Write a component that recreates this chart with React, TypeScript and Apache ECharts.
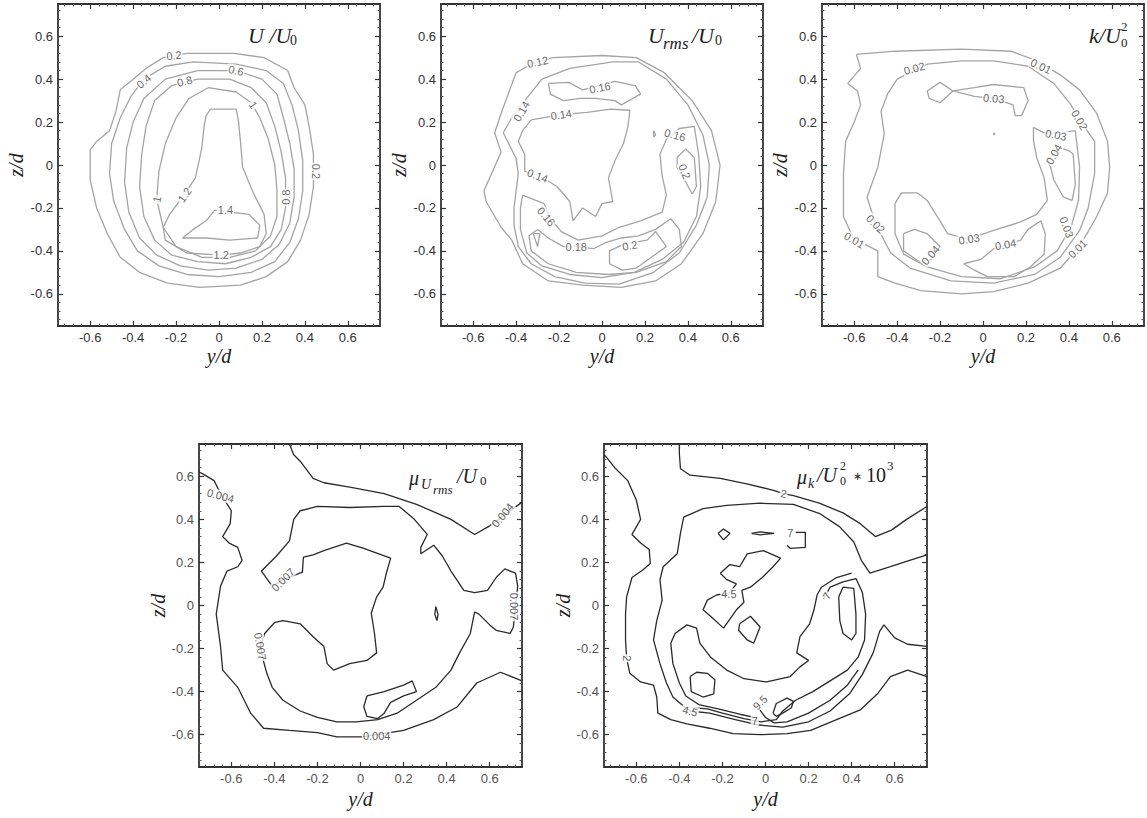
import React, { useEffect, useRef } from "react";
import * as echarts from "echarts";

// ---------- axis ticks ----------
const MAJOR_TICKS = [-0.6, -0.4, -0.2, 0, 0.2, 0.4, 0.6];
const MINOR_STEP = 0.04;

// ---------- Panel 1 : U/U0 ----------
const P1_C02 = [[-0.15,0.52],[0.07,0.52],[0.21,0.50],[0.32,0.44],[0.35,0.36],[0.40,0.28],[0.42,0.18],[0.44,0.05],[0.44,-0.10],[0.42,-0.23],[0.38,-0.35],[0.32,-0.45],[0.22,-0.52],[0.10,-0.56],[-0.09,-0.57],[-0.24,-0.55],[-0.37,-0.50],[-0.46,-0.43],[-0.52,-0.32],[-0.57,-0.20],[-0.60,-0.07],[-0.60,0.07],[-0.57,0.11],[-0.51,0.16],[-0.48,0.25],[-0.46,0.35],[-0.40,0.40],[-0.34,0.45],[-0.26,0.50],[-0.15,0.52]];
const P1_C04 = [[-0.12,0.48],[0.08,0.47],[0.22,0.44],[0.30,0.38],[0.34,0.28],[0.37,0.16],[0.39,0.02],[0.39,-0.12],[0.37,-0.25],[0.33,-0.36],[0.26,-0.45],[0.15,-0.50],[0.00,-0.52],[-0.15,-0.51],[-0.28,-0.47],[-0.38,-0.40],[-0.44,-0.30],[-0.49,-0.17],[-0.51,-0.04],[-0.50,0.10],[-0.46,0.22],[-0.41,0.32],[-0.35,0.40],[-0.25,0.46],[-0.12,0.48]];
const P1_C06 = [[-0.10,0.44],[0.08,0.44],[0.20,0.40],[0.27,0.33],[0.30,0.22],[0.33,0.10],[0.35,-0.02],[0.35,-0.15],[0.33,-0.27],[0.28,-0.37],[0.20,-0.44],[0.08,-0.48],[-0.05,-0.49],[-0.18,-0.47],[-0.29,-0.42],[-0.37,-0.34],[-0.42,-0.22],[-0.44,-0.08],[-0.43,0.08],[-0.40,0.20],[-0.35,0.31],[-0.25,0.40],[-0.10,0.44]];
const P1_C08 = [[-0.10,0.40],[0.05,0.40],[0.15,0.36],[0.22,0.29],[0.26,0.18],[0.29,0.06],[0.31,-0.06],[0.31,-0.20],[0.29,-0.30],[0.24,-0.38],[0.15,-0.43],[0.03,-0.46],[-0.10,-0.45],[-0.22,-0.42],[-0.30,-0.35],[-0.35,-0.24],[-0.37,-0.10],[-0.36,0.05],[-0.34,0.18],[-0.30,0.30],[-0.22,0.37],[-0.10,0.40]];
const P1_C10 = [[-0.05,0.36],[0.08,0.34],[0.15,0.29],[0.19,0.22],[0.23,0.12],[0.26,0.00],[0.27,-0.12],[0.27,-0.24],[0.24,-0.33],[0.17,-0.40],[0.05,-0.43],[-0.08,-0.43],[-0.20,-0.38],[-0.26,-0.29],[-0.29,-0.16],[-0.28,-0.03],[-0.25,0.10],[-0.20,0.22],[-0.14,0.31],[-0.05,0.36]];
const P1_C12 = [[-0.06,0.23],[-0.04,0.26],[0.08,0.26],[0.09,0.21],[0.10,0.11],[0.11,-0.01],[0.16,-0.13],[0.21,-0.23],[0.22,-0.32],[0.19,-0.38],[0.10,-0.41],[0.01,-0.42],[-0.15,-0.41],[-0.25,-0.35],[-0.26,-0.29],[-0.23,-0.23],[-0.17,-0.15],[-0.11,-0.06],[-0.08,0.08],[-0.07,0.175],[-0.06,0.23]];
const P1_C14 = [[-0.02,-0.21],[0.14,-0.23],[0.19,-0.28],[0.18,-0.34],[0.05,-0.35],[-0.06,-0.34],[-0.17,-0.34],[-0.12,-0.30],[-0.06,-0.26],[-0.02,-0.21]];
const P1_LABELS = [["0.2",-0.21,0.51,5],["0.4",-0.35,0.39,40],["0.6",0.08,0.44,-12],["0.8",-0.16,0.39,15],["1",0.16,0.28,-55],["0.2",0.45,-0.03,-90],["0.8",0.31,-0.15,90],["1",-0.29,-0.16,80],["1.2",-0.16,-0.14,55],["1.4",0.03,-0.21,0],["1.2",0.01,-0.42,0]];

// ---------- Panel 2 : Urms/U0 ----------
const P2_C012 = [[-0.23,0.50],[0.00,0.51],[0.16,0.50],[0.29,0.43],[0.42,0.30],[0.51,0.16],[0.55,0.00],[0.53,-0.17],[0.47,-0.32],[0.37,-0.46],[0.25,-0.54],[0.09,-0.57],[-0.09,-0.56],[-0.25,-0.54],[-0.37,-0.46],[-0.42,-0.35],[-0.47,-0.29],[-0.54,-0.17],[-0.55,-0.12],[-0.51,-0.03],[-0.47,0.06],[-0.50,0.15],[-0.47,0.24],[-0.43,0.35],[-0.40,0.43],[-0.33,0.47],[-0.23,0.50]];
const P2_C014A = [[-0.28,0.40],[-0.15,0.45],[0.05,0.48],[0.17,0.48],[0.30,0.40],[0.40,0.28],[0.47,0.14],[0.50,0.00],[0.49,-0.15],[0.44,-0.28],[0.36,-0.41],[0.24,-0.50],[0.08,-0.555],[-0.08,-0.55],[-0.22,-0.52],[-0.33,-0.46],[-0.39,-0.38],[-0.41,-0.28],[-0.41,-0.20],[-0.40,-0.12],[-0.39,-0.04],[-0.40,0.03],[-0.46,0.15],[-0.42,0.22],[-0.36,0.30],[-0.28,0.40]];
const P2_C014B = [[-0.33,0.21],[-0.19,0.235],[-0.07,0.245],[0.04,0.26],[0.13,0.255],[0.12,0.175],[0.10,0.10],[0.06,0.02],[0.03,-0.06],[0.05,-0.17],[0.00,-0.18],[-0.03,-0.24],[-0.09,-0.20],[-0.135,-0.26],[-0.15,-0.17],[-0.21,-0.10],[-0.29,-0.05],[-0.36,-0.03],[-0.36,0.05],[-0.39,0.11],[-0.37,0.16],[-0.33,0.21]];
const P2_C016A = [[-0.25,0.38],[-0.155,0.385],[-0.09,0.35],[-0.015,0.37],[0.06,0.39],[0.155,0.37],[0.18,0.33],[0.09,0.28],[0.06,0.30],[-0.03,0.31],[-0.10,0.31],[-0.18,0.30],[-0.24,0.33],[-0.25,0.38]];
const P2_C016B = [[-0.37,-0.14],[-0.32,-0.16],[-0.27,-0.18],[-0.24,-0.25],[-0.19,-0.31],[-0.11,-0.35],[0.00,-0.33],[0.08,-0.29],[0.18,-0.26],[0.28,-0.22],[0.30,-0.14],[0.28,-0.05],[0.27,0.05],[0.30,0.12],[0.36,0.17],[0.43,0.18],[0.45,0.05],[0.46,-0.10],[0.44,-0.24],[0.38,-0.36],[0.28,-0.44],[0.15,-0.50],[0.00,-0.525],[-0.15,-0.51],[-0.28,-0.47],[-0.35,-0.41],[-0.38,-0.30],[-0.38,-0.20],[-0.37,-0.14]];
const P2_C018 = [[-0.30,-0.30],[-0.25,-0.34],[-0.18,-0.38],[-0.12,-0.38],[-0.04,-0.39],[0.02,-0.36],[0.09,-0.34],[0.17,-0.33],[0.25,-0.30],[0.32,-0.25],[0.36,-0.30],[0.37,-0.38],[0.30,-0.45],[0.16,-0.50],[0.03,-0.51],[-0.12,-0.50],[-0.25,-0.46],[-0.33,-0.40],[-0.34,-0.33],[-0.30,-0.30]];
const P2_C020A = [[0.035,-0.46],[0.035,-0.40],[0.10,-0.37],[0.21,-0.35],[0.25,-0.31],[0.30,-0.38],[0.23,-0.43],[0.16,-0.48],[0.095,-0.49],[0.035,-0.46]];
const P2_C020B = [[-0.32,-0.32],[-0.29,-0.32],[-0.30,-0.38],[-0.32,-0.32]];
const P2_C020C = [[0.35,0.035],[0.39,0.075],[0.43,0.035],[0.44,-0.10],[0.42,-0.135],[0.38,-0.06],[0.35,-0.01],[0.35,0.035]];
const P2_DOT = [[0.24,0.16],[0.25,0.14],[0.24,0.13],[0.24,0.16]];
const P2_LABELS = [["0.12",-0.30,0.48,12],["0.14",-0.375,0.25,60],["0.16",-0.01,0.36,12],["0.14",-0.19,0.235,8],["0.16",0.34,0.14,-15],["0.2",0.385,-0.03,-70],["0.14",-0.30,-0.05,-20],["0.16",-0.26,-0.24,-50],["0.18",-0.12,-0.38,0],["0.2",0.13,-0.375,10]];

// ---------- Panel 3 : k/U0^2 ----------
const P3_C001 = [[-0.59,0.515],[-0.41,0.53],[-0.10,0.54],[0.13,0.53],[0.24,0.49],[0.36,0.42],[0.45,0.35],[0.53,0.24],[0.58,0.11],[0.59,-0.01],[0.58,-0.13],[0.53,-0.24],[0.49,-0.31],[0.44,-0.39],[0.36,-0.48],[0.21,-0.55],[0.05,-0.59],[-0.10,-0.60],[-0.29,-0.585],[-0.41,-0.55],[-0.49,-0.52],[-0.49,-0.40],[-0.55,-0.37],[-0.60,-0.35],[-0.65,-0.24],[-0.65,-0.04],[-0.64,0.11],[-0.60,0.20],[-0.57,0.28],[-0.585,0.345],[-0.63,0.38],[-0.57,0.45],[-0.59,0.515]];
const P3_C002 = [[-0.40,0.40],[-0.26,0.47],[-0.10,0.485],[0.05,0.485],[0.21,0.46],[0.33,0.38],[0.41,0.28],[0.45,0.21],[0.52,0.11],[0.52,-0.04],[0.49,-0.20],[0.45,-0.305],[0.36,-0.43],[0.24,-0.51],[0.05,-0.55],[-0.15,-0.54],[-0.34,-0.48],[-0.43,-0.41],[-0.50,-0.275],[-0.54,-0.15],[-0.49,-0.01],[-0.46,0.145],[-0.475,0.25],[-0.445,0.33],[-0.40,0.40]];
const P3_C003A = [[-0.26,0.345],[-0.20,0.385],[-0.14,0.345],[-0.20,0.29],[-0.25,0.31],[-0.26,0.345]];
const P3_C003B = [[-0.14,0.345],[-0.04,0.36],[0.05,0.375],[0.19,0.36],[0.21,0.30],[0.18,0.23],[0.15,0.23],[0.14,0.28],[0.05,0.31],[-0.04,0.32],[-0.14,0.345]];
const P3_C003C = [[0.43,0.16],[0.45,-0.01],[0.445,-0.165],[0.41,-0.29],[0.345,-0.40],[0.24,-0.475],[0.08,-0.53],[-0.10,-0.52],[-0.26,-0.475],[-0.37,-0.415],[-0.41,-0.32],[-0.41,-0.18],[-0.38,-0.13],[-0.305,-0.13],[-0.26,-0.165],[-0.21,-0.245],[-0.165,-0.32],[-0.07,-0.345],[0.05,-0.305],[0.175,-0.265],[0.25,-0.23],[0.30,-0.165],[0.285,-0.06],[0.25,0.035],[0.235,0.115],[0.235,0.175],[0.285,0.15],[0.36,0.15],[0.43,0.16]];
const P3_C004A = [[0.30,0.02],[0.36,0.08],[0.40,0.067],[0.42,0.05],[0.43,-0.09],[0.415,-0.165],[0.375,-0.15],[0.33,-0.07],[0.315,-0.01],[0.30,0.02]];
const P3_C004B = [[-0.37,-0.32],[-0.32,-0.30],[-0.26,-0.32],[-0.20,-0.38],[-0.26,-0.46],[-0.305,-0.445],[-0.37,-0.40],[-0.37,-0.32]];
const P3_C004C = [[-0.09,-0.46],[-0.01,-0.44],[0.05,-0.39],[0.175,-0.35],[0.21,-0.30],[0.27,-0.26],[0.29,-0.32],[0.285,-0.415],[0.22,-0.475],[0.145,-0.52],[0.02,-0.52],[-0.04,-0.49],[-0.09,-0.46]];
const P3_DOT = [[0.05,0.15],[0.055,0.145],[0.05,0.14],[0.05,0.15]];
const P3_LABELS = [["0.01",0.27,0.46,-25],["0.01",0.44,-0.39,45],["0.01",-0.60,-0.35,-30],["0.02",-0.32,0.45,15],["0.02",0.45,0.21,-60],["0.02",-0.50,-0.275,-45],["0.03",0.05,0.31,-5],["0.03",0.34,0.14,-10],["0.03",-0.065,-0.345,10],["0.03",0.39,-0.29,-70],["0.04",0.33,0.05,60],["0.04",-0.245,-0.42,50],["0.04",0.105,-0.37,10]];

// ---------- Panel 4 : mu_Urms/U0 ----------
const P4_C0004A = [[-0.75,0.62],[-0.73,0.61],[-0.68,0.58],[-0.65,0.52],[-0.60,0.44],[-0.605,0.38],[-0.64,0.32],[-0.61,0.29],[-0.57,0.27],[-0.55,0.21],[-0.57,0.18],[-0.62,0.16],[-0.65,0.09],[-0.67,-0.04],[-0.65,-0.19],[-0.64,-0.30],[-0.57,-0.38],[-0.51,-0.50],[-0.45,-0.57],[-0.33,-0.58],[-0.20,-0.59],[-0.11,-0.61],[0.01,-0.61],[0.20,-0.58],[0.34,-0.53],[0.45,-0.47],[0.54,-0.36],[0.65,-0.31],[0.75,-0.35]];
const P4_C0004B = [[-0.33,0.75],[-0.31,0.70],[-0.28,0.67],[-0.22,0.59],[-0.17,0.57],[-0.05,0.55],[0.11,0.52],[0.26,0.47],[0.42,0.40],[0.53,0.33],[0.60,0.37],[0.67,0.42],[0.75,0.48]];
const P4_C0007 = [[0.72,0.15],[0.67,0.17],[0.63,0.13],[0.59,0.07],[0.53,0.06],[0.48,0.07],[0.42,0.16],[0.38,0.23],[0.34,0.28],[0.28,0.24],[0.28,0.27],[0.31,0.33],[0.25,0.40],[0.18,0.46],[0.11,0.46],[-0.05,0.455],[-0.20,0.46],[-0.28,0.44],[-0.31,0.40],[-0.33,0.30],[-0.39,0.23],[-0.46,0.16],[-0.41,0.09],[-0.36,0.12],[-0.27,0.155],[-0.265,0.225],[-0.22,0.235],[-0.17,0.255],[-0.065,0.29],[0.015,0.265],[0.14,0.22],[0.12,0.15],[0.105,0.085],[0.075,0.04],[0.05,-0.035],[0.065,-0.13],[0.075,-0.22],[0.03,-0.255],[-0.05,-0.27],[-0.125,-0.30],[-0.155,-0.27],[-0.17,-0.19],[-0.22,-0.145],[-0.28,-0.085],[-0.36,-0.07],[-0.40,-0.08],[-0.445,-0.13],[-0.465,-0.19],[-0.45,-0.26],[-0.435,-0.315],[-0.41,-0.38],[-0.36,-0.44],[-0.28,-0.49],[-0.20,-0.52],[-0.11,-0.54],[-0.02,-0.54],[0.08,-0.53],[0.17,-0.50],[0.26,-0.44],[0.35,-0.38],[0.42,-0.30],[0.46,-0.22],[0.51,-0.13],[0.53,-0.03],[0.55,-0.04],[0.60,-0.09],[0.63,-0.115],[0.695,-0.13],[0.71,-0.10],[0.72,0.00],[0.73,0.09],[0.72,0.15]];
const P4_C0007I = [[0.35,-0.005],[0.36,-0.04],[0.355,-0.07],[0.345,-0.04],[0.35,-0.005]];
const P4_C0007B = [[0.03,-0.42],[0.11,-0.40],[0.20,-0.37],[0.24,-0.35],[0.26,-0.40],[0.20,-0.42],[0.14,-0.45],[0.11,-0.50],[0.08,-0.525],[0.03,-0.515],[0.015,-0.47],[0.03,-0.42]];
const P4_LABELS = [["0.004",-0.65,0.51,-15],["0.004",0.66,0.42,50],["0.004",0.075,-0.605,0],["0.007",-0.36,0.12,45],["0.007",-0.465,-0.19,-80],["0.007",0.715,-0.005,-90]];

// ---------- Panel 5 : mu_k/U0^2 * 10^3 ----------
const P5_C2A = [[-0.75,0.70],[-0.74,0.69],[-0.70,0.64],[-0.64,0.58],[-0.60,0.49],[-0.58,0.40],[-0.62,0.33],[-0.58,0.29],[-0.54,0.26],[-0.535,0.195],[-0.57,0.165],[-0.62,0.13],[-0.645,0.04],[-0.65,-0.04],[-0.65,-0.16],[-0.645,-0.245],[-0.63,-0.315],[-0.58,-0.355],[-0.52,-0.37],[-0.505,-0.425],[-0.50,-0.50],[-0.44,-0.53],[-0.365,-0.55],[-0.26,-0.57],[-0.15,-0.595],[-0.025,-0.60],[0.10,-0.595],[0.21,-0.58],[0.33,-0.53],[0.44,-0.485],[0.52,-0.41],[0.58,-0.33],[0.66,-0.30],[0.75,-0.33]];
const P5_C2B = [[-0.40,0.75],[-0.40,0.705],[-0.395,0.635],[-0.35,0.605],[-0.21,0.59],[-0.087,0.565],[0.037,0.535],[0.084,0.52],[0.13,0.51],[0.25,0.475],[0.36,0.43],[0.44,0.38],[0.51,0.32],[0.585,0.35],[0.655,0.40],[0.75,0.46]];
const P5_C45A = [[0.75,0.235],[0.655,0.205],[0.58,0.18],[0.485,0.15],[0.445,0.21],[0.41,0.295],[0.345,0.365],[0.255,0.425],[0.13,0.47],[-0.025,0.475],[-0.18,0.465],[-0.29,0.45],[-0.38,0.41],[-0.395,0.335],[-0.41,0.24],[-0.475,0.18],[-0.49,0.12],[-0.48,0.025],[-0.505,-0.07],[-0.52,-0.16],[-0.49,-0.27],[-0.46,-0.36],[-0.43,-0.425],[-0.395,-0.455],[-0.35,-0.49],[-0.26,-0.50],[-0.14,-0.53],[-0.03,-0.555],[0.08,-0.565],[0.20,-0.54],[0.30,-0.49],[0.39,-0.41],[0.45,-0.32],[0.50,-0.22],[0.53,-0.12],[0.55,-0.09],[0.60,-0.15],[0.66,-0.18],[0.75,-0.19]];
const P5_C45B = [[0.40,0.15],[0.33,0.13],[0.26,0.085],[0.24,0.05],[0.225,-0.02],[0.205,-0.085],[0.16,-0.145],[0.145,-0.22],[0.20,-0.255],[0.16,-0.285],[0.115,-0.33],[0.005,-0.355],[-0.10,-0.34],[-0.18,-0.30],[-0.255,-0.24],[-0.305,-0.175],[-0.32,-0.105],[-0.365,-0.09],[-0.42,-0.13],[-0.44,-0.175],[-0.43,-0.27],[-0.40,-0.36],[-0.37,-0.42],[-0.31,-0.46],[-0.22,-0.48],[-0.12,-0.505],[-0.05,-0.52]];
const P5_C45C = [[-0.21,0.15],[-0.165,0.19],[-0.12,0.18],[-0.085,0.24],[-0.01,0.255],[0.07,0.22],[0.035,0.18],[-0.01,0.135],[-0.07,0.085],[-0.11,0.07],[-0.10,0.015],[-0.135,-0.02],[-0.195,-0.105],[-0.255,-0.05],[-0.29,-0.02],[-0.27,0.025],[-0.225,0.05],[-0.17,0.055],[-0.135,0.10],[-0.18,0.12],[-0.21,0.15]];
const P5_C45D = [[-0.12,-0.085],[-0.07,-0.05],[-0.025,-0.10],[-0.055,-0.175],[-0.085,-0.16],[-0.125,-0.115],[-0.12,-0.085]];
const P5_C45E = [[-0.22,0.335],[-0.195,0.355],[-0.165,0.335],[-0.195,0.305],[-0.22,0.335]];
const P5_C45F = [[-0.065,0.335],[-0.025,0.342],[0.04,0.335],[-0.025,0.328],[-0.065,0.335]];
const P5_C7A = [[0.10,0.28],[0.115,0.265],[0.185,0.27],[0.185,0.34],[0.14,0.34]];
const P5_C7B = [[0.27,0.03],[0.30,0.085],[0.36,0.11],[0.42,0.125],[0.45,0.06],[0.465,-0.04],[0.46,-0.16],[0.43,-0.24],[0.38,-0.30],[0.30,-0.35],[0.22,-0.40],[0.14,-0.44],[0.08,-0.49],[0.05,-0.53],[-0.02,-0.54],[-0.10,-0.525],[-0.20,-0.50],[-0.27,-0.48],[-0.33,-0.475]];
const P5_C7C = [[0.34,0.04],[0.36,0.085],[0.41,0.08],[0.42,-0.04],[0.42,-0.13],[0.40,-0.16],[0.36,-0.13],[0.345,-0.07],[0.34,0.04]];
const P5_C7D = [[-0.35,-0.33],[-0.32,-0.31],[-0.27,-0.315],[-0.235,-0.345],[-0.24,-0.41],[-0.29,-0.425],[-0.345,-0.40],[-0.35,-0.33]];
const P5_C95A = [[-0.03,-0.48],[0.00,-0.52],[0.04,-0.545],[0.10,-0.54],[0.20,-0.50],[0.30,-0.44],[0.38,-0.37],[0.43,-0.30]];
const P5_C95B = [[0.035,-0.50],[0.05,-0.455],[0.10,-0.43],[0.13,-0.445],[0.12,-0.475],[0.08,-0.50],[0.05,-0.515],[0.035,-0.50]];
const P5_LABELS = [["2",0.084,0.52,-10],["2",-0.645,-0.245,-90],["4.5",-0.17,0.055,0],["4.5",-0.35,-0.49,-15],["7",0.115,0.335,0],["7",0.285,0.045,60],["7",-0.05,-0.535,0],["9.5",-0.025,-0.45,45]];

const SANS = '"Liberation Sans", Arial, sans-serif';
const SERIF = '"Liberation Serif", "Times New Roman", serif';

const PANELS = [
  { grid: { left: 58, top: 4, width: 322, height: 322 }, lines: [P1_C02, P1_C04, P1_C06, P1_C08, P1_C10, P1_C12, P1_C14], labels: P1_LABELS, line: "#a4a4a4", text: "#444", tick: "#333", xGap: 20, yGap: 32 },
  { grid: { left: 441, top: 4, width: 322, height: 322 }, lines: [P2_C012, P2_C014A, P2_C014B, P2_C016A, P2_C016B, P2_C018, P2_C020A, P2_C020B, P2_C020C, P2_DOT], labels: P2_LABELS, line: "#a4a4a4", text: "#444", tick: "#333", xGap: 20, yGap: 32 },
  { grid: { left: 822, top: 4, width: 322, height: 322 }, lines: [P3_C001, P3_C002, P3_C003A, P3_C003B, P3_C003C, P3_C004A, P3_C004B, P3_C004C, P3_DOT], labels: P3_LABELS, line: "#a4a4a4", text: "#444", tick: "#333", xGap: 20, yGap: 32 },
  { grid: { left: 199, top: 444, width: 323, height: 323 }, lines: [P4_C0004A, P4_C0004B, P4_C0007, P4_C0007I, P4_C0007B], labels: P4_LABELS, line: "#2a2a2a", text: "#333", tick: "#555", xGap: 22, yGap: 28 },
  { grid: { left: 604, top: 444, width: 323, height: 323 }, lines: [P5_C2A, P5_C2B, P5_C45A, P5_C45B, P5_C45C, P5_C45D, P5_C45E, P5_C45F, P5_C7A, P5_C7B, P5_C7C, P5_C7D, P5_C95A, P5_C95B], labels: P5_LABELS, line: "#2a2a2a", text: "#333", tick: "#555", xGap: 22, yGap: 28 },
];

// Titles (text, x, y, size, italic)
const TITLE_PARTS: [string, number, number, number, boolean][] = [
  ["U /U", 248, 35, 22, true], ["0", 290, 40, 14, false],
  ["U", 648, 35, 22, true], ["rms", 663, 43, 17, true], ["/U", 692, 35, 22, true], ["0", 715, 40, 14, false],
  ["k/U", 1089, 35, 22, true], ["2", 1121, 26, 13, false], ["0", 1121, 42, 13, false],
  ["μ", 409, 478, 20, true], ["U", 421, 484, 14, true], ["rms", 433, 489, 13, true], ["/U", 457, 476, 20, true], ["0", 480, 480, 13, false],
  ["μ", 797, 477, 20, true], ["k", 808, 483, 14, true], ["/U", 817, 475, 20, true], ["2", 840, 466, 12, false], ["0", 840, 481, 12, false], ["∗", 853, 476, 11, false], ["10", 866, 475, 20, false], ["3", 887, 465, 13, false],
];

function minorTicks(): number[] {
  const out: number[] = [];
  for (let k = -18; k <= 18; k++) {
    if (k % 5 === 0) continue;
    out.push(Math.round(k * MINOR_STEP * 1000) / 1000);
  }
  return out;
}

function buildOption() {
  const minor = minorTicks();
  const grids: any[] = [];
  const xAxes: any[] = [];
  const yAxes: any[] = [];
  const series: any[] = [];
  PANELS.forEach((p, gi) => {
    grids.push({ ...p.grid, containLabel: false });
    const box = { show: true, onZero: false, lineStyle: { color: "#333", width: 1.8 } };
    const hidden = { show: false, onZero: false };
    const base = { gridIndex: gi, type: "value", min: -0.75, max: 0.75, splitLine: { show: false }, axisPointer: { show: false } };
    const lbl = { show: true, customValues: MAJOR_TICKS, fontSize: 13, fontFamily: SANS, color: p.tick, margin: 5 };
    const nameStyle = { fontFamily: SERIF, fontStyle: "italic", fontSize: 20, color: "#222" };
    const major = { show: true, inside: true, length: 5, customValues: MAJOR_TICKS, lineStyle: { color: "#333", width: 1.2 } };
    const minorT = { show: true, inside: true, length: 2.5, customValues: minor, lineStyle: { color: "#555", width: 1 } };
    xAxes.push(
      { ...base, position: "bottom", axisLine: box, axisTick: major, axisLabel: lbl, name: "y/d", nameLocation: "middle", nameGap: p.xGap, nameTextStyle: nameStyle },
      { ...base, position: "top", axisLine: box, axisTick: major, axisLabel: { show: false } },
      { ...base, position: "bottom", axisLine: hidden, axisTick: minorT, axisLabel: { show: false } },
      { ...base, position: "top", axisLine: hidden, axisTick: minorT, axisLabel: { show: false } }
    );
    yAxes.push(
      { ...base, position: "left", axisLine: box, axisTick: major, axisLabel: lbl, name: "z/d", nameLocation: "middle", nameGap: p.yGap, nameTextStyle: nameStyle },
      { ...base, position: "right", axisLine: box, axisTick: major, axisLabel: { show: false } },
      { ...base, position: "left", axisLine: hidden, axisTick: minorT, axisLabel: { show: false } },
      { ...base, position: "right", axisLine: hidden, axisTick: minorT, axisLabel: { show: false } }
    );
    p.lines.forEach((pts) => {
      series.push({
        type: "line", xAxisIndex: gi * 4, yAxisIndex: gi * 4, data: pts,
        showSymbol: false, symbol: "none", silent: true, z: 2, clip: true,
        lineStyle: { color: p.line, width: 1.3 }, itemStyle: { color: p.line },
      });
    });
    const labelStyle = { show: true, position: "inside", formatter: "{b}", fontSize: 11, fontFamily: SANS, color: p.text, backgroundColor: "#fff", padding: [0, 1] };
    series.push({
      type: "scatter", xAxisIndex: gi * 4, yAxisIndex: gi * 4, silent: true, z: 4,
      symbolSize: 0, itemStyle: { color: p.text },
      data: p.labels.map(([t, x, y, r]) => ({ name: t, value: [x, y], label: { ...labelStyle, rotate: r } })),
      label: labelStyle,
    });
  });
  const graphic = TITLE_PARTS.map(([t, x, y, s, it]) => ({
    type: "text", x, y, silent: true, z: 10,
    style: { text: t, fontSize: s, fontFamily: SERIF, fontStyle: it ? "italic" : "normal", fill: "#222", align: "left", verticalAlign: "middle" },
  }));
  return { animation: false, backgroundColor: "#fff", grid: grids, xAxis: xAxes, yAxis: yAxes, series, graphic };
}

export default function App() {
  const ref = useRef<HTMLDivElement>(null);
  useEffect(() => {
    if (!ref.current) return;
    const chart = echarts.init(ref.current, undefined, { renderer: "svg" });
    chart.setOption(buildOption() as any);
    return () => chart.dispose();
  }, []);
  return <div ref={ref} style={{ position: "fixed", left: 0, top: 0, width: 1147, height: 818, background: "#fff" }} />;
}
